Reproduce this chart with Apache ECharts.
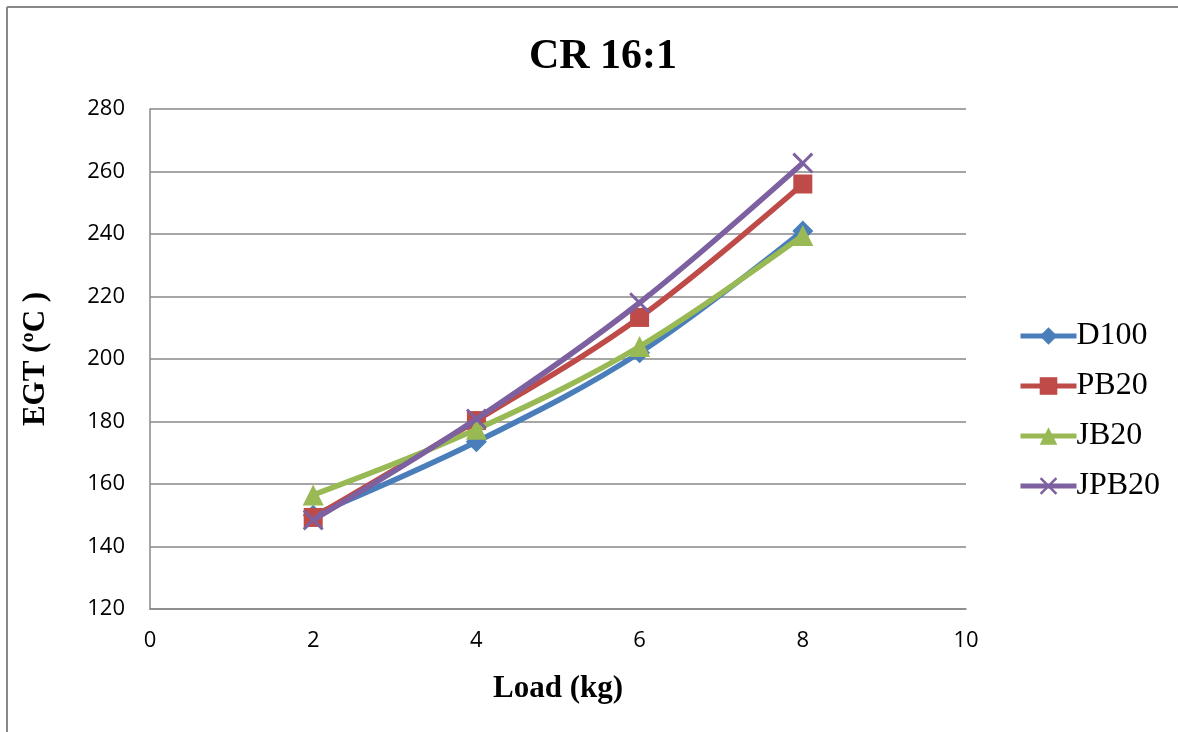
<!DOCTYPE html>
<html>
<head>
<meta charset="utf-8">
<script src="https://cdn.jsdelivr.net/npm/echarts@6/dist/echarts.min.js"></script>
<style>
html,body{margin:0;padding:0;background:#fff;}
#c{width:1178px;height:732px;}
</style>
</head>
<body>
<div id="c"></div>
<script>
var loads = [2, 4, 6, 8];
var seriesNames = ['D100', 'PB20', 'JB20', 'JPB20'];
var d100 = [150, 173.5, 202, 241];
var pb20 = [149.3, 180.3, 213.3, 256];
var jb20 = [156.5, 177.5, 204, 239.5];
var jpb20 = [148.5, 180.8, 218, 262.7];
var yTicks = [120, 140, 160, 180, 200, 220, 240, 260, 280];
var xTicks = [0, 2, 4, 6, 8, 10];

var colors = ['#4A7EBB', '#BE4B48', '#98B954', '#7D60A0'];
var symbols = ['diamond', 'rect', 'triangle',
  'path://M0,1 L1,0 L5,4 L9,0 L10,1 L6,5 L10,9 L9,10 L5,6 L1,10 L0,9 L4,5 Z'];
var sizes = [21, 19, 21, 21];
var values = [d100, pb20, jb20, jpb20];

function pairs(v){ return loads.map(function(x,i){ return [x, v[i]]; }); }

var chart = echarts.init(document.getElementById('c'));
var option = {
  animation: false,
  backgroundColor: '#fff',
  title: {
    text: 'CR 16:1', left: 598, top: 31, textAlign: 'center',
    textStyle: { fontFamily: 'Liberation Serif', fontWeight: 'bold', fontSize: 42, color: '#000' }
  },
  graphic: [
    { type: 'line', shape: { x1: 7, y1: 7, x2: 1178, y2: 7 }, style: { stroke: '#888', lineWidth: 2 } },
    { type: 'line', shape: { x1: 7, y1: 7, x2: 7, y2: 732 }, style: { stroke: '#888', lineWidth: 2 } }
  ],
  grid: { left: 150, right: 212, top: 109, bottom: 123 },
  legend: {
    orient: 'vertical', left: 1013, top: 315,
    itemWidth: 56, itemHeight: 22, itemGap: 18,
    data: seriesNames,
    lineStyle: { width: 5 },
    textStyle: { fontFamily: 'Liberation Serif', fontSize: 32, color: '#000', padding: [0,0,0,-5] }
  },
  xAxis: {
    type: 'value', min: 0, max: 10, interval: 2,
    name: 'Load (kg)', nameLocation: 'middle', nameGap: 64,
    nameTextStyle: { fontFamily: 'Liberation Serif', fontWeight: 'bold', fontSize: 31, color: '#000' },
    axisLine: { lineStyle: { color: '#888', width: 1.5 } },
    axisTick: { show: false },
    splitLine: { show: false },
    axisLabel: { fontFamily: 'Open Sans', fontSize: 22, color: '#000', margin: 21,
      formatter: function(v){ return xTicks.indexOf(v) >= 0 ? String(v) : ''; } }
  },
  yAxis: {
    type: 'value', min: 120, max: 280, interval: 20,
    name: 'EGT (ºC )', nameLocation: 'middle', nameGap: 99, nameRotate: 90,
    nameTextStyle: { fontFamily: 'Liberation Serif', fontWeight: 'bold', fontSize: 31, color: '#000' },
    axisLine: { show: true, lineStyle: { color: '#888', width: 1.5 } },
    axisTick: { show: false },
    splitLine: { lineStyle: { color: '#888', width: 1.5 } },
    axisLabel: { fontFamily: 'Open Sans', fontSize: 22, color: '#000', margin: 25,
      formatter: function(v){ return yTicks.indexOf(v) >= 0 ? String(v) : ''; } }
  },
  series: seriesNames.map(function(n, i){
    return {
      name: n, type: 'line', smooth: 0.35,
      data: pairs(values[i]),
      symbol: symbols[i], symbolSize: sizes[i],
      lineStyle: { color: colors[i], width: 5.5 },
      itemStyle: { color: colors[i] },
      z: 2 + i
    };
  })
};
chart.setOption(option);
</script>
</body>
</html>
